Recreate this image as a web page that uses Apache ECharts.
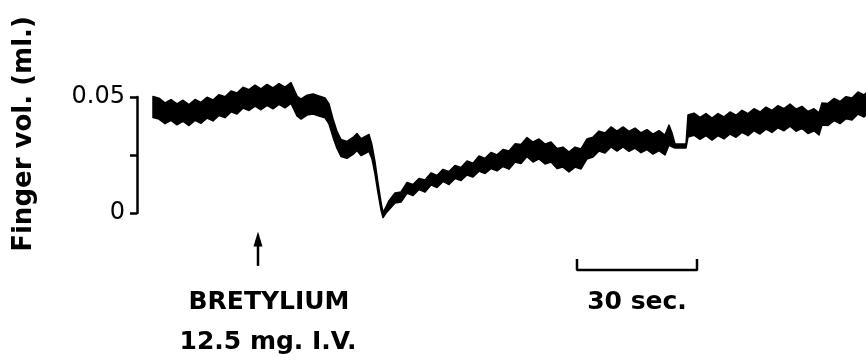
<!DOCTYPE html>
<html>
<head>
<meta charset="utf-8">
<script src="https://cdn.jsdelivr.net/npm/echarts@6/dist/echarts.min.js"></script>
<style>
  html, body { margin: 0; background: #fff; }
  #chart { width: 866px; height: 360px; }
</style>
</head>
<body>
<div id="chart"></div>
<script>
// finger plethysmograph trace, time in seconds, volume in ml
var traceTime = [
  4, 5.5, 7, 8.5, 10, 11.5, 13, 14.5, 16, 17.5, 19, 20.5, 22, 23.5, 25, 26.5, 28, 29.5, 31, 32.5, 34, 35.5, 37, 38.5,
  40, 41, 42.5, 44, 45.5, 47, 48, 49, 50, 51, 52.5, 54, 55, 56, 57, 58, 58.75, 59.5, 60.25, 61, 61.5,
  62.25, 63, 64.5, 66, 67.5, 69, 70.5, 72, 73.5, 75, 76.5, 78, 79.5, 81, 82.5, 84, 85.5, 87, 88.5, 90, 91.5,
  93, 94.5, 96, 97.5, 99, 100.5, 102, 103.5, 105, 106.5, 108, 109.5, 111, 112.5, 114, 115.5, 117, 118.5, 120,
  121.5, 123, 124.5, 126, 127.5, 129, 130.5, 132, 133, 133.75, 134.5, 137.25, 137.75,
  139.25, 140.75, 142.25, 143.75, 145.25, 146.75, 148.25, 149.75, 151.25, 152.75, 154.25, 155.75, 157.25,
  158.75, 160.25, 161.75, 163.25, 164.75, 166.25, 167.75, 169.25, 170.5, 171.25, 172.75, 174.25, 175.75,
  177.25, 178.75, 180.25, 181.75, 182.25
];
var traceMid = [
  0.0457, 0.0450, 0.0430, 0.0444, 0.0425, 0.0441, 0.0422, 0.0444, 0.0432, 0.0454, 0.0442, 0.0465, 0.0456, 0.0481,
  0.0472, 0.0497, 0.0487, 0.0506, 0.0490, 0.0509, 0.0494, 0.0513, 0.0498, 0.0517,
  0.0461, 0.0448, 0.0465, 0.0470, 0.0461, 0.0453, 0.0427, 0.0366, 0.0315, 0.0280, 0.0272, 0.0289, 0.0306, 0.0284,
  0.0293, 0.0302, 0.0263, 0.0194, 0.0108, 0.0030, -0.0009,
  0.0013, 0.0034, 0.0065, 0.0069, 0.0108, 0.0099, 0.0125, 0.0116, 0.0147, 0.0136, 0.0162, 0.0151, 0.0177, 0.0168,
  0.0194, 0.0185, 0.0213, 0.0203, 0.0226, 0.0216, 0.0237,
  0.0228, 0.0259, 0.0254, 0.0284, 0.0263, 0.0276, 0.0254, 0.0263, 0.0235, 0.0241, 0.0220, 0.0241, 0.0233, 0.0276,
  0.0284, 0.0310, 0.0302, 0.0328, 0.0310, 0.0328, 0.0309, 0.0323, 0.0303, 0.0316, 0.0297, 0.0312, 0.0293,
  0.0336, 0.0315, 0.0289, 0.0289, 0.0375,
  0.0383, 0.0365, 0.0381, 0.0362, 0.0381, 0.0367, 0.0388, 0.0374, 0.0395, 0.0381, 0.0402, 0.0388, 0.0409, 0.0395,
  0.0415, 0.0402, 0.0422, 0.0400, 0.0412, 0.0390, 0.0402, 0.0384, 0.0427, 0.0425, 0.0446, 0.0433, 0.0454, 0.0448,
  0.0474, 0.0461, 0.0470
];
// vertical thickness of the inked trace (pulse swing), ml
var traceSpan = [
  0.0090, 0.0090, 0.0090, 0.0090, 0.0090, 0.0090, 0.0090, 0.0090, 0.0090, 0.0090, 0.0090, 0.0090, 0.0090, 0.0090,
  0.0090, 0.0090, 0.0090, 0.0090, 0.0090, 0.0090, 0.0090, 0.0090, 0.0090, 0.0090,
  0.0086, 0.0086, 0.0086, 0.0086, 0.0086, 0.0086, 0.0086, 0.0078, 0.0073, 0.0073, 0.0073, 0.0073, 0.0073, 0.0073,
  0.0073, 0.0073, 0.0060, 0.0052, 0.0043, 0.0034, 0.0022,
  0.0026, 0.0039, 0.0043, 0.0043, 0.0047, 0.0047, 0.0047, 0.0052, 0.0052, 0.0052, 0.0052, 0.0056, 0.0056, 0.0056,
  0.0060, 0.0060, 0.0065, 0.0065, 0.0069, 0.0069, 0.0073,
  0.0078, 0.0078, 0.0082, 0.0082, 0.0086, 0.0086, 0.0086, 0.0086, 0.0086, 0.0086, 0.0086, 0.0086, 0.0086, 0.0086,
  0.0086, 0.0086, 0.0086, 0.0086, 0.0086, 0.0086, 0.0086, 0.0086, 0.0086, 0.0086, 0.0086, 0.0086, 0.0086,
  0.0086, 0.0060, 0.0017, 0.0017, 0.0095,
  0.0095, 0.0095, 0.0095, 0.0095, 0.0095, 0.0095, 0.0095, 0.0095, 0.0095, 0.0095, 0.0095, 0.0095, 0.0095, 0.0095,
  0.0095, 0.0095, 0.0095, 0.0095, 0.0095, 0.0095, 0.0095, 0.0095, 0.0095, 0.0095, 0.0095, 0.0095, 0.0095, 0.0095,
  0.0095, 0.0095, 0.0095
];

var yTicks = [0, 0.025, 0.05];
var yTickLabels = ['0', '', '0.05'];

var injectTime = 30.25;          // bretylium given here
var arrowVol = [-0.0228, -0.0112];
var scaleBarTime = [110, 110, 140, 140];   // 30 sec
var scaleBarVol = [-0.0198, -0.0246, -0.0246, -0.0198];

var chart = echarts.init(document.getElementById('chart'), null, { renderer: 'canvas' });

var ink = '#000';
var font = 'DejaVu Sans';

// the trace is a thick inked band: top edge forward, bottom edge back
function renderTrace(params, api) {
  if (params.dataIndex !== 0) return;
  var pts = [];
  var i;
  for (i = 0; i < traceTime.length; i++) {
    pts.push(api.coord([traceTime[i], traceMid[i] + traceSpan[i] / 2]));
  }
  for (i = traceTime.length - 1; i >= 0; i--) {
    pts.push(api.coord([traceTime[i], traceMid[i] - traceSpan[i] / 2]));
  }
  return {
    type: 'polygon',
    shape: { points: pts },
    style: { fill: ink, stroke: ink, lineWidth: 1.5, lineJoin: 'round' }
  };
}

var option = {
  animation: false,
  backgroundColor: '#fff',
  grid: { left: 137, right: 0, top: 97, height: 116 },
  xAxis: {
    type: 'value',
    min: 0,
    max: 182.25,
    show: false
  },
  yAxis: {
    type: 'value',
    min: 0,
    max: 0.05,
    interval: 0.025,
    axisLine: { show: true, lineStyle: { color: ink, width: 2.5 } },
    axisTick: { show: true, length: 7, lineStyle: { color: ink, width: 2.5 } },
    splitLine: { show: false },
    axisLabel: {
      margin: 12,
      color: ink,
      fontFamily: font,
      fontSize: 24,
      formatter: function (v) {
        for (var i = 0; i < yTicks.length; i++) {
          if (Math.abs(v - yTicks[i]) < 1e-9) return yTickLabels[i];
        }
        return '';
      }
    }
  },
  series: [
    {
      name: 'trace',
      type: 'custom',
      clip: false,
      renderItem: renderTrace,
      data: traceTime.map(function (t, i) { return [t, traceMid[i]]; })
    },
    {
      name: 'arrow',
      type: 'line',
      clip: false,
      lineStyle: { color: ink, width: 2.5 },
      data: [
        { value: [injectTime, arrowVol[0]], symbol: 'none' },
        { value: [injectTime, arrowVol[1]], symbol: 'triangle', symbolSize: [9, 15],
          itemStyle: { color: ink } }
      ]
    },
    {
      name: 'scale',
      type: 'line',
      clip: false,
      showSymbol: false,
      lineStyle: { color: ink, width: 2.5 },
      data: scaleBarTime.map(function (t, i) { return [t, scaleBarVol[i]]; })
    }
  ],
  graphic: [
    {
      type: 'text', x: 24, y: 134, rotation: Math.PI / 2,
      style: { text: 'Finger vol. (ml.)', font: 'bold 26px ' + font, fill: ink, align: 'center', verticalAlign: 'middle' }
    },
    {
      type: 'text', x: 269, y: 302,
      style: { text: 'BRETYLIUM', font: 'bold 25px ' + font, fill: ink, align: 'center', verticalAlign: 'middle' }
    },
    {
      type: 'text', x: 268, y: 342,
      style: { text: '12.5 mg. I.V.', font: 'bold 25px ' + font, fill: ink, align: 'center', verticalAlign: 'middle' }
    },
    {
      type: 'text', x: 637, y: 302,
      style: { text: '30 sec.', font: 'bold 25px ' + font, fill: ink, align: 'center', verticalAlign: 'middle' }
    }
  ]
};

chart.setOption(option);
</script>
</body>
</html>
